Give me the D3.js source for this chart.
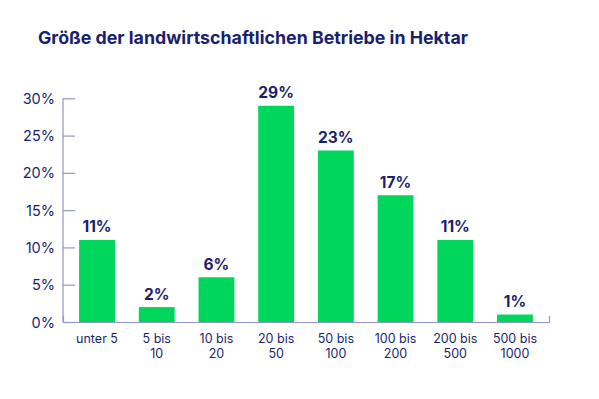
<!DOCTYPE html>
<html><head><meta charset="utf-8">
<script src="https://cdn.jsdelivr.net/npm/d3@7"></script>
<style>
html,body{margin:0;padding:0;background:#fff;}
svg{display:block;font-family:Inter, "Noto Sans", sans-serif;}
</style></head>
<body>
<svg id="chart" width="599" height="399"></svg>
<script>
const title = "Größe der landwirtschaftlichen Betriebe in Hektar";
const categories = ["unter 5", "5 bis 10", "10 bis 20", "20 bis 50", "50 bis 100", "100 bis 200", "200 bis 500", "500 bis 1000"];
const categoryLines = [["unter 5"], ["5 bis", "10"], ["10 bis", "20"], ["20 bis", "50"], ["50 bis", "100"], ["100 bis", "200"], ["200 bis", "500"], ["500 bis", "1000"]];
const values = [11, 2, 6, 29, 23, 17, 11, 1];
const yTicks = [0, 5, 10, 15, 20, 25, 30];

const navy = "#1a1f6e", green = "#00d65b", axisCol = "#9196c4";
const svg = d3.select("#chart");

svg.append("text").attr("x", 38).attr("y", 44)
  .attr("fill", navy).attr("font-weight", 700).attr("font-size", 17.8)
  .text(title);

const x = d3.scaleBand().domain(categories).range([63, 549]).paddingInner(0.4).paddingOuter(0.27);
const y = d3.scaleLinear().domain([0, 30]).range([322, 98.3]);

// y axis
const yAxis = svg.append("g").attr("transform", "translate(63,0)")
  .call(d3.axisRight(y).tickValues(yTicks).tickSize(12).tickFormat(d => d + "%"));
yAxis.select(".domain").remove();
yAxis.selectAll(".tick line").attr("stroke", axisCol).attr("stroke-width", 1.2);
yAxis.selectAll(".tick text").attr("x", -8).attr("text-anchor", "end")
  .attr("fill", navy).attr("font-size", 14.5).attr("font-family", "Inter, sans-serif").attr("dy", "0.35em");
svg.append("line").attr("x1", 63).attr("x2", 63).attr("y1", y(30)).attr("y2", y(0))
  .attr("stroke", axisCol).attr("stroke-width", 1.2);

// bars
svg.append("g").selectAll("rect").data(values).join("rect")
  .attr("x", (d, i) => x(categories[i])).attr("width", x.bandwidth())
  .attr("y", d => y(d)).attr("height", d => y(0) - y(d)).attr("fill", green);

// x axis
const xAxis = svg.append("g").attr("transform", `translate(0,${y(0)})`)
  .call(d3.axisTop(x).tickSize(0).tickSizeOuter(6).tickFormat(""));
xAxis.select(".domain").attr("stroke", axisCol).attr("stroke-width", 1.2);
xAxis.selectAll(".tick").remove();

// x labels
const lab = svg.append("g").selectAll("text").data(categories).join("text")
  .attr("x", d => x(d) + x.bandwidth() / 2).attr("y", 343)
  .attr("text-anchor", "middle").attr("fill", navy).attr("font-size", 12.5);
lab.each(function(d, i) {
  categoryLines[i].forEach((l, j) => {
    d3.select(this).append("tspan").attr("x", x(d) + x.bandwidth() / 2).attr("dy", j ? 15 : 0).text(l);
  });
});

// value labels
svg.append("g").selectAll("text").data(values).join("text")
  .attr("x", (d, i) => x(categories[i]) + x.bandwidth() / 2).attr("y", d => y(d) - 7.5)
  .attr("text-anchor", "middle").attr("fill", navy).attr("font-weight", 700).attr("font-size", 15.5)
  .text(d => d + "%");
</script>
</body></html>
